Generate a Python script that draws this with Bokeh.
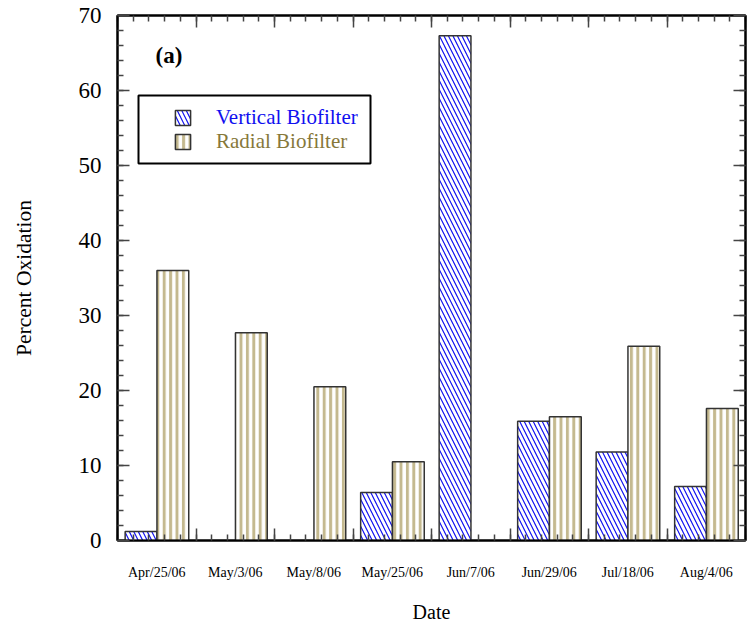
import numpy as np
from bokeh.plotting import figure
from bokeh.models import (ColumnDataSource, FixedTicker, LinearAxis, Legend, LegendItem,
                          BoxAnnotation, Label, Range1d)
from bokeh.embed import file_html
from bokeh.resources import INLINE

# Sampling dates and percent oxidation for each biofilter
dates = ["Apr/25/06", "May/3/06", "May/8/06", "May/25/06",
         "Jun/7/06", "Jun/29/06", "Jul/18/06", "Aug/4/06"]
vertical = [1.2, np.nan, np.nan, 6.4, 67.3, 15.9, 11.8, 7.2]
radial = [36.0, 27.7, 20.5, 10.5, np.nan, 16.5, 25.9, 17.6]

SERIF = "Liberation Serif"
BLUE = "#1010f0"
TAN = "#c4b98f"
OLIVE = "#86783a"
TICK = "#444444"
OUTLINE = "#333333"

idx = np.arange(len(dates))
src_v = ColumnDataSource(dict(x=idx + 0.3, top=vertical))
src_r = ColumnDataSource(dict(x=idx + 0.705, top=radial))

p = figure(width=751, height=627, output_backend="svg", toolbar_location=None,
           x_range=Range1d(0, len(dates)), y_range=Range1d(0, 70),
           min_border_left=117, min_border_right=6, min_border_top=15, min_border_bottom=87,
           x_axis_type=None, y_axis_type=None)
p.grid.visible = False
p.outline_line_color = "black"
p.outline_line_width = 2
p.background_fill_color = "white"

r_v = p.vbar(x="x", top="top", bottom=0, width=0.405, source=src_v,
             fill_color="white", line_color=OUTLINE, line_width=1.5,
             hatch_pattern="left_diagonal_line", hatch_color=BLUE,
             hatch_weight=1.2, hatch_scale=9)
r_r = p.vbar(x="x", top="top", bottom=0, width=0.405, source=src_r,
             fill_color="white", line_color=OUTLINE, line_width=1.5,
             hatch_pattern="vertical_line", hatch_color=TAN,
             hatch_weight=3, hatch_scale=6.4)

# tick positions: category boundaries with five subdivisions each
x_major = list(range(len(dates) + 1))
x_minor = [i / 5 for i in range(len(dates) * 5 + 1)]
y_major = list(range(0, 71, 10))
y_minor = list(range(0, 71, 2))


def tick_axis(axis, major, minor, long=12, short=6):
    axis.ticker = FixedTicker(ticks=major, minor_ticks=minor)
    axis.major_tick_in = long
    axis.major_tick_out = 0
    axis.minor_tick_in = short
    axis.minor_tick_out = 0
    axis.major_tick_line_color = TICK
    axis.minor_tick_line_color = TICK
    axis.major_tick_line_width = 1.5
    axis.minor_tick_line_width = 1.5
    axis.axis_line_color = "black"
    axis.axis_line_width = 2
    return axis


def hide_labels(axis):
    axis.major_label_text_font_size = "0px"
    axis.major_label_text_alpha = 0
    axis.major_label_standoff = 0
    return axis


# bottom: tick marks
xb = hide_labels(tick_axis(LinearAxis(), x_major, x_minor))
p.add_layout(xb, "below")

# bottom: date labels centred in each category
xl = LinearAxis(ticker=FixedTicker(ticks=[i + 0.5 for i in idx], minor_ticks=[]),
                major_label_overrides={float(i + 0.5): d for i, d in enumerate(dates)})
xl.major_tick_in = 0
xl.major_tick_out = 0
xl.minor_tick_in = 0
xl.minor_tick_out = 0
xl.axis_line_color = None
xl.major_label_standoff = 24
xl.major_label_text_font = SERIF
xl.major_label_text_font_size = "14px"
xl.major_label_text_color = "black"
xl.axis_label = "Date"
xl.axis_label_text_font = SERIF
xl.axis_label_text_font_size = "20px"
xl.axis_label_text_font_style = "normal"
xl.axis_label_text_color = "black"
xl.axis_label_standoff = 18
p.add_layout(xl, "below")

# top ticks
xt = hide_labels(tick_axis(LinearAxis(), x_major, x_minor))
p.add_layout(xt, "above")

# left axis
yl = tick_axis(LinearAxis(), y_major, y_minor)
yl.major_label_standoff = 16
yl.major_label_text_font = SERIF
yl.major_label_text_font_size = "23px"
yl.major_label_text_color = "black"
yl.axis_label = "Percent Oxidation"
yl.axis_label_text_font = SERIF
yl.axis_label_text_font_size = "21.5px"
yl.axis_label_text_font_style = "normal"
yl.axis_label_text_color = "black"
yl.axis_label_standoff = 40
p.add_layout(yl, "left")

# right ticks
yr = hide_labels(tick_axis(LinearAxis(), y_major, y_minor))
p.add_layout(yr, "right")

# legend: one entry per series so each label keeps its own colour
def legend_for(label, renderer, color, loc):
    lg = Legend(items=[LegendItem(label=label, renderers=[renderer])], location=loc,
                border_line_color=None, background_fill_alpha=0, padding=0, margin=0,
                spacing=0, glyph_width=19, glyph_height=19, label_standoff=24,
                label_height=19, label_text_font=SERIF, label_text_font_size="21px",
                label_text_color=color, label_text_baseline="middle")
    p.add_layout(lg, "center")

legend_for("Vertical Biofilter", r_v, BLUE, (56, 410))
legend_for("Radial Biofilter", r_r, OLIVE, (56, 386))

p.add_layout(BoxAnnotation(left=21, right=253, bottom=377, top=445,
                           left_units="screen", right_units="screen",
                           bottom_units="screen", top_units="screen",
                           fill_alpha=0, line_color="black", line_alpha=1, line_width=2))

p.add_layout(Label(x=38, y=485, x_units="screen", y_units="screen", text="(a)",
                   text_font=SERIF, text_font_style="bold", text_font_size="23px",
                   text_baseline="middle", text_color="black"))

open("out.html", "w").write(file_html(p, INLINE))
